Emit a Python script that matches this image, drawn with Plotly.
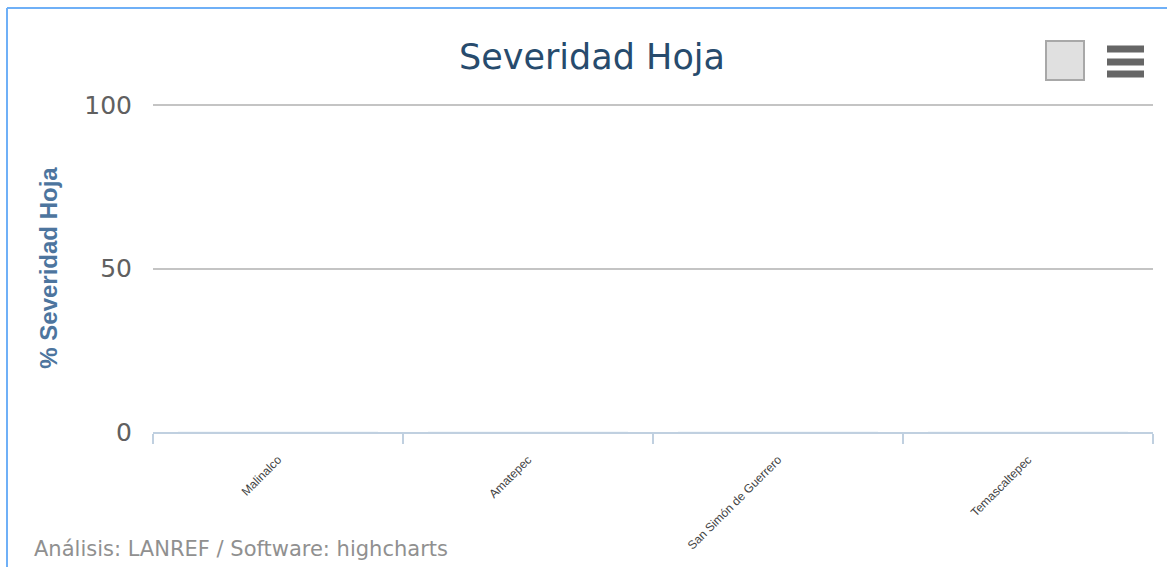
import plotly.graph_objects as go

# categories and values (no severity recorded -> all zero)
municipios = ["Malinalco", "Amatepec", "San Simón de Guerrero", "Temascaltepec"]
severidad = [0, 0, 0, 0]
y_ticks = [0, 50, 100]

W, H = 1167, 567
L, R, T, B = 153, 14, 104, 135


def px_x(x):
    return (x - L) / (W - L - R)


def px_y(y):
    return (H - B - y) / (H - T - B)


fig = go.Figure()

fig.add_trace(go.Bar(
    x=municipios,
    y=severidad,
    marker_color="#2f7ed8",
    name="Severidad Hoja",
    showlegend=False,
))

# outer container border (left / top), export buttons
shapes = [
    dict(type="line", xref="paper", yref="paper",
         x0=px_x(7), x1=px_x(7), y0=px_y(8), y1=px_y(600),
         line=dict(color="#6fb0f7", width=2)),
    dict(type="line", xref="paper", yref="paper",
         x0=px_x(7), x1=px_x(1200), y0=px_y(8), y1=px_y(8),
         line=dict(color="#6fb0f7", width=2)),
    dict(type="rect", xref="paper", yref="paper",
         x0=px_x(1046), x1=px_x(1084), y0=px_y(41), y1=px_y(80),
         fillcolor="#e0e0e0", line=dict(color="#a8a8a8", width=2)),
]
for yy in (49, 62, 74):
    shapes.append(dict(type="line", xref="paper", yref="paper",
                       x0=px_x(1107), x1=px_x(1144), y0=px_y(yy), y1=px_y(yy),
                       line=dict(color="#666666", width=7)))

fig.update_layout(
    width=W,
    height=H,
    margin=dict(l=L, r=R, t=T, b=B),
    paper_bgcolor="white",
    plot_bgcolor="white",
    title=dict(
        text="Severidad Hoja",
        xref="container", x=592 / W, xanchor="center",
        yref="container", y=1 - 57 / H, yanchor="middle",
        font=dict(family="DejaVu Sans", size=35, color="#274b6d"),
    ),
    xaxis=dict(
        type="category",
        range=[-0.5, len(municipios) - 0.5],
        tickson="boundaries",
        ticks="outside",
        ticklen=10,
        tickwidth=2,
        tickcolor="#C0D0E0",
        showline=True,
        linecolor="#C0D0E0",
        linewidth=2,
        showgrid=False,
        tickangle=-45,
        ticklabelstandoff=14,
        tickfont=dict(family="Liberation Sans Narrow, Arial", size=12, color="#444444"),
    ),
    yaxis=dict(
        range=[0, 100.4],
        tickvals=y_ticks,
        showgrid=True,
        gridcolor="#C4C4C4",
        gridwidth=2,
        zeroline=False,
        showline=False,
        ticks="",
        ticklabelstandoff=20,
        tickfont=dict(family="DejaVu Sans", size=25, color="#606060"),
        title=dict(
            text="% Severidad Hoja",
            standoff=19,
            font=dict(family="Liberation Sans", size=24, color="#4d759e", weight="bold"),
        ),
    ),
    shapes=shapes,
    annotations=[
        dict(
            text="Análisis: LANREF / Software: highcharts",
            xref="paper", yref="paper",
            x=px_x(32), y=px_y(549),
            xanchor="left", yanchor="middle",
            showarrow=False,
            font=dict(family="DejaVu Sans", size=21, color="#909090"),
        )
    ],
)

fig.write_html("out.html", config={"displayModeBar": False},
               post_script="document.body.style.margin='0px';")
